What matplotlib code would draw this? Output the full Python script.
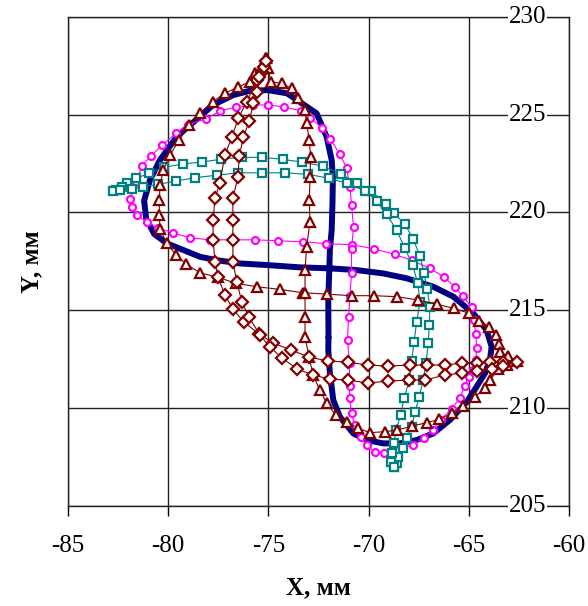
import matplotlib
matplotlib.use("Agg")
import matplotlib.pyplot as plt

plt.rcParams['font.family'] = ['Liberation Serif', 'DejaVu Serif']

# thick navy contour (no markers)
navy_xy = [(-72.0, 213.6), (-72.01, 215.5), (-71.96, 217.05), (-71.93, 218.08), (-71.84, 219.1),
           (-71.8, 220.5), (-71.78, 221.8), (-71.84, 222.68), (-72.09, 223.87), (-72.59, 225.07),
           (-73.42, 225.65), (-74.07, 226.1), (-75.02, 226.26), (-75.92, 226.23), (-76.77, 226.0),
           (-77.76, 225.5), (-78.91, 224.47), (-79.58, 223.87), (-80.41, 222.68), (-80.91, 221.66),
           (-81.2, 220.6), (-81.1, 219.7), (-80.7, 218.9), (-80.07, 218.42), (-79.25, 218.08),
           (-78.41, 217.73), (-77.58, 217.56), (-76.42, 217.39), (-75.08, 217.31), (-73.42, 217.19),
           (-71.93, 217.14), (-70.59, 217.05), (-69.27, 216.88), (-68.1, 216.63), (-66.77, 216.2),
           (-65.77, 215.69), (-64.78, 214.84), (-64.11, 213.98), (-63.86, 213.13), (-63.94, 212.45),
           (-64.19, 211.77), (-64.61, 211.08), (-65.1, 210.3), (-65.94, 209.38), (-66.77, 208.69),
           (-67.6, 208.35), (-68.43, 208.18), (-69.27, 208.18), (-70.09, 208.35), (-70.76, 208.69),
           (-71.43, 209.54), (-71.76, 210.4), (-71.93, 211.77), (-72.01, 212.96), (-72.0, 213.6)]

# magenta circles
magenta_xy = [(-75.0, 225.5), (-75.75, 225.5), (-76.6, 225.4), (-77.4, 225.2), (-78.1, 224.8),
              (-79.0, 224.5), (-79.6, 224.05), (-80.3, 223.45), (-80.85, 222.9), (-81.3, 222.4),
              (-81.6, 221.55), (-81.9, 220.7), (-81.8, 220.3), (-81.55, 219.85), (-81.05, 219.5),
              (-80.5, 219.2), (-79.75, 218.95), (-78.9, 218.7), (-77.9, 218.6), (-76.75, 218.6),
              (-75.65, 218.6), (-74.5, 218.55), (-73.25, 218.5), (-72.1, 218.4), (-70.85, 218.35),
              (-69.75, 218.15), (-68.7, 217.85), (-67.85, 217.55), (-66.95, 217.15), (-66.25, 216.7),
              (-65.7, 216.2), (-65.3, 215.7), (-64.85, 215.15), (-64.75, 214.5), (-64.65, 213.8),
              (-64.6, 213.05), (-64.65, 212.45), (-64.8, 211.95), (-65.0, 211.6), (-65.2, 211.1),
              (-65.45, 210.5), (-65.85, 209.95), (-66.4, 209.4), (-66.8, 208.85), (-67.25, 208.45),
              (-67.8, 208.1), (-68.55, 207.85), (-69.25, 207.7), (-69.7, 207.75), (-70.1, 208.1),
              (-70.4, 208.5), (-70.7, 209.1), (-70.85, 209.75), (-70.95, 210.5), (-70.95, 211.1),
              (-70.95, 212.3), (-71.05, 213.45), (-71.0, 214.65), (-70.93, 215.7), (-70.85, 216.9),
              (-70.85, 218.15), (-70.75, 219.25), (-70.85, 220.4), (-70.93, 221.3), (-71.1, 222.3),
              (-71.45, 223.0), (-71.9, 223.75), (-72.3, 224.3), (-72.9, 224.85), (-73.35, 225.2),
              (-74.2, 225.4), (-75.0, 225.5)]

# teal squares
teal_xy = [(-68.73, 206.97), (-68.6, 207.16), (-68.52, 207.5), (-68.27, 207.93), (-68.1, 208.44),
           (-67.85, 209.03), (-67.68, 209.8), (-67.47, 210.57), (-67.27, 211.42), (-67.14, 212.28),
           (-67.02, 213.3), (-66.97, 214.24), (-66.94, 215.17), (-67.07, 216.06), (-67.24, 216.91),
           (-67.43, 217.77), (-67.77, 218.62), (-68.18, 219.4), (-68.72, 219.95), (-69.13, 220.43),
           (-69.88, 221.11), (-70.56, 221.49), (-71.39, 221.97), (-72.26, 222.37), (-73.34, 222.58),
           (-74.29, 222.72), (-75.3, 222.82), (-76.33, 222.82), (-77.38, 222.72), (-78.33, 222.58),
           (-79.28, 222.48), (-80.21, 222.31), (-80.94, 222.0), (-81.61, 221.75), (-82.07, 221.49),
           (-82.32, 221.32), (-82.6, 221.15), (-82.74, 221.11), (-82.41, 221.15), (-81.82, 221.18),
           (-81.27, 221.32), (-80.49, 221.44), (-79.61, 221.61), (-78.66, 221.78), (-77.55, 221.91),
           (-76.5, 222.03), (-75.3, 222.03), (-74.17, 222.03), (-73.01, 221.95), (-71.96, 221.75),
           (-71.09, 221.49), (-70.18, 221.11), (-69.6, 220.6), (-69.1, 219.9), (-68.6, 219.1),
           (-68.2, 218.2), (-67.8, 217.3), (-67.55, 216.4), (-67.43, 215.43), (-67.6, 214.41),
           (-67.73, 213.38), (-67.85, 212.4), (-67.97, 211.42), (-68.23, 210.49), (-68.4, 209.63),
           (-68.63, 208.86), (-68.73, 208.21), (-68.85, 207.67), (-68.9, 207.24), (-68.73, 206.97)]

# dark red triangles
tri_xy = [(-75.13, 227.9), (-75.67, 227.12), (-75.92, 226.69), (-76.5, 226.43), (-77.17, 226.1),
          (-77.78, 225.67), (-78.41, 225.1), (-78.95, 224.47), (-79.45, 223.71), (-79.91, 222.94),
          (-80.24, 222.17), (-80.41, 221.4), (-80.44, 220.63), (-80.44, 219.87), (-80.41, 219.14),
          (-80.07, 218.42), (-79.61, 217.82), (-79.1, 217.36), (-78.41, 216.91), (-77.5, 216.68),
          (-76.62, 216.37), (-75.58, 216.2), (-74.42, 216.06), (-73.26, 215.89), (-72.09, 215.82),
          (-70.84, 215.74), (-69.73, 215.74), (-68.6, 215.69), (-67.53, 215.52), (-66.6, 215.31),
          (-65.74, 215.09), (-64.98, 214.84), (-64.48, 214.46), (-63.98, 214.15), (-63.64, 213.73),
          (-63.48, 213.27), (-63.44, 212.87), (-63.04, 212.65), (-62.61, 212.41), (-63.09, 212.19),
          (-63.53, 211.97), (-63.94, 211.42), (-64.19, 211.0), (-64.69, 210.57), (-65.27, 210.09),
          (-65.85, 209.72), (-66.47, 209.41), (-67.1, 209.24), (-67.83, 209.07), (-68.57, 208.86),
          (-69.18, 208.78), (-69.93, 208.73), (-70.51, 208.95), (-71.06, 209.29), (-71.63, 209.63),
          (-72.09, 210.23), (-72.43, 210.91), (-72.77, 211.68), (-72.97, 212.6), (-73.17, 213.64),
          (-73.17, 214.66), (-73.17, 215.86), (-73.17, 217.05), (-73.09, 218.24), (-72.92, 219.52),
          (-72.96, 220.63), (-72.92, 221.83), (-72.89, 222.85), (-72.96, 223.71), (-73.09, 224.56),
          (-73.17, 225.24), (-73.51, 225.84), (-73.84, 226.35), (-74.34, 226.61), (-74.87, 226.69),
          (-75.02, 227.39), (-75.13, 227.9)]

# dark red diamonds
dia_xy = [(-75.13, 227.76), (-75.33, 227.2), (-75.58, 226.78), (-76.08, 225.67), (-76.5, 224.82),
          (-76.83, 223.84), (-77.17, 222.94), (-77.42, 221.5), (-77.66, 220.74), (-77.76, 219.61),
          (-77.76, 218.59), (-77.66, 217.46), (-77.51, 216.69), (-77.17, 215.77), (-76.77, 215.06),
          (-76.22, 214.39), (-75.47, 213.78), (-74.77, 213.32), (-73.87, 212.96), (-72.97, 212.6),
          (-72.03, 212.4), (-71.03, 212.34), (-70.03, 212.19), (-69.03, 212.14), (-67.93, 212.19),
          (-67.09, 212.19), (-66.19, 212.19), (-65.34, 212.29), (-64.59, 212.29), (-63.94, 212.34),
          (-63.29, 212.34), (-62.61, 212.36), (-63.29, 212.14), (-63.86, 211.97), (-64.59, 211.88),
          (-65.34, 211.78), (-66.19, 211.68), (-67.19, 211.42), (-67.98, 211.42), (-69.03, 211.37),
          (-70.03, 211.27), (-71.03, 211.42), (-71.93, 211.47), (-72.77, 211.68), (-73.57, 211.99),
          (-74.32, 212.55), (-74.92, 213.11), (-75.42, 213.73), (-75.97, 214.65), (-76.32, 215.41),
          (-76.57, 216.44), (-76.77, 217.46), (-76.77, 218.59), (-76.77, 219.61), (-76.77, 220.74),
          (-76.52, 221.81), (-76.45, 222.9), (-76.25, 223.84), (-75.95, 224.69), (-75.75, 225.58),
          (-75.55, 226.18), (-75.45, 226.94), (-75.22, 227.46), (-75.13, 227.76)]

x_ticks = [-85, -80, -75, -70, -65, -60]
y_ticks = [205, 210, 215, 220, 225, 230]
y_label_x = -62.05

fig = plt.figure(figsize=(5.88, 6.06), dpi=100)
ax = fig.add_axes([0.1156, 0.1658, 0.852, 0.806])


def xs(pts):
    return [p[0] for p in pts]


def ys(pts):
    return [p[1] for p in pts]


ax.plot(xs(navy_xy), ys(navy_xy), color='#000080', lw=4.3, zorder=3, solid_capstyle='round')
ax.plot(xs(magenta_xy), ys(magenta_xy), color='#FF00FF', lw=0.8, marker='o', ms=5,
        mfc='white', mec='#FF00FF', mew=1.6, zorder=4)
ax.plot(xs(teal_xy), ys(teal_xy), color='#008080', lw=0.8, marker='s', ms=5.5,
        mfc='white', mec='#008080', mew=1.6, zorder=5)
ax.plot(xs(tri_xy), ys(tri_xy), color='#800000', lw=0.8, marker='^', ms=7.5,
        mfc='white', mec='#800000', mew=1.6, zorder=6)
ax.plot(xs(dia_xy), ys(dia_xy), color='#800000', lw=0.8, marker='D', ms=6,
        mfc='white', mec='#800000', mew=1.6, zorder=7)

ax.set_xlim(-85, -60)
ax.set_ylim(205, 230)
ax.set_xticks(x_ticks)
ax.set_xticklabels([str(v) for v in x_ticks])
ax.set_yticks(y_ticks)
ax.set_yticklabels([])
ax.tick_params(axis='x', direction='out', length=7, width=1.0, labelsize=18, pad=14)
ax.tick_params(axis='y', length=0)
ax.grid(True, color='#222222', lw=1.0)
for s in ax.spines.values():
    s.set_color('#222222')
    s.set_linewidth(1.0)

for v in y_ticks:
    ax.text(y_label_x, v, str(v), ha='center', va='center', fontsize=18, zorder=10,
            clip_on=False, bbox=dict(facecolor='white', edgecolor='none', pad=0.5))

ax.set_xlabel('X, мм', fontsize=18, fontweight='bold', labelpad=14)
ax.set_ylabel('Y, мм', fontsize=18, fontweight='bold', labelpad=14)

fig.savefig('out.png', dpi=100)
